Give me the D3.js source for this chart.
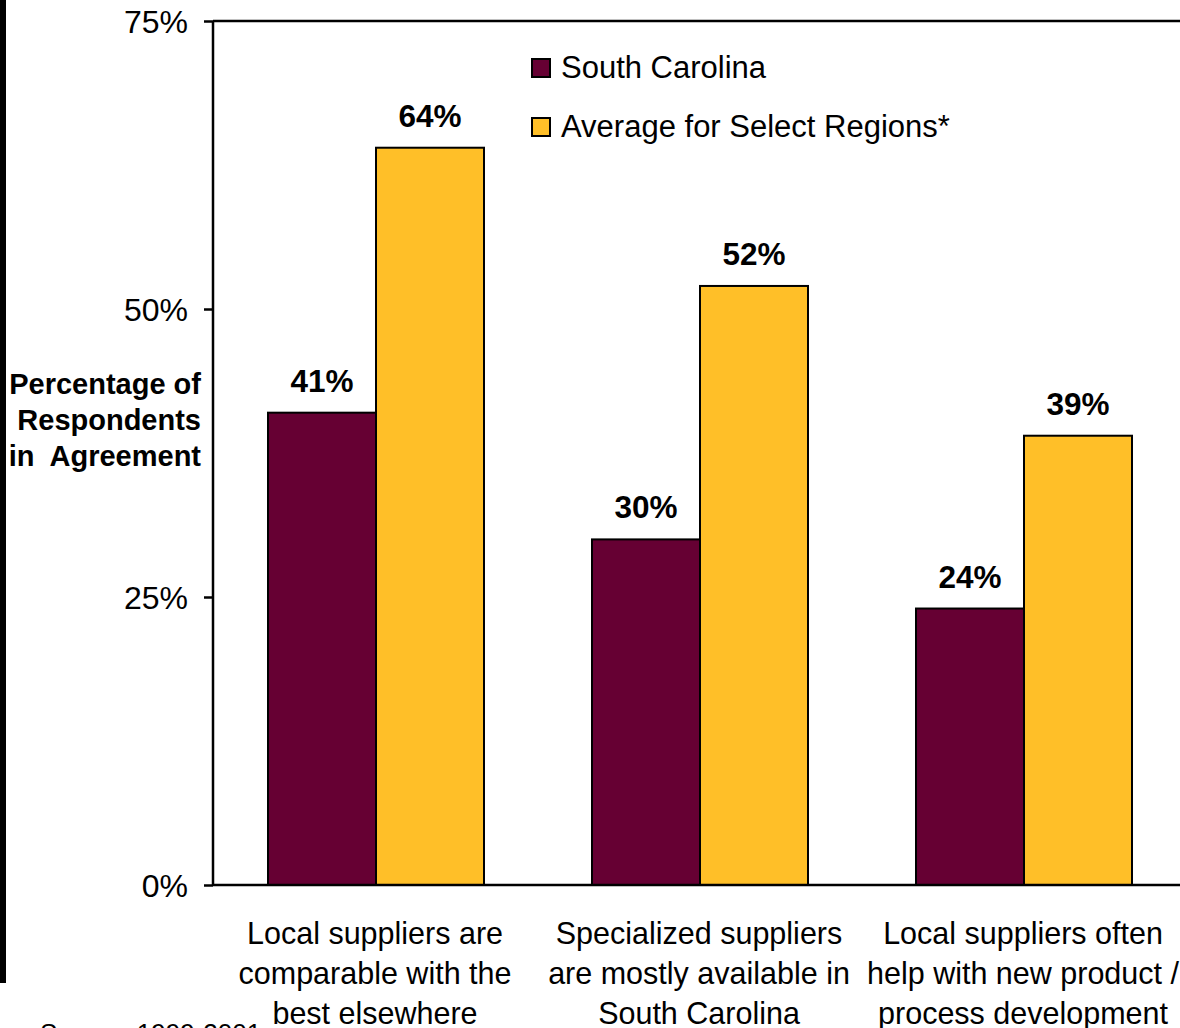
<!DOCTYPE html>
<html>
<head>
<meta charset="utf-8">
<script src="https://cdn.jsdelivr.net/npm/d3@7"></script>
<style>
  html, body { margin: 0; padding: 0; background: #fff; overflow: hidden; }
  svg { display: block; font-family: "Liberation Sans", Arial, sans-serif; }
</style>
</head>
<body>
<svg id="chart" width="1180" height="1028"></svg>
<script>
// Survey categories (multi-line labels)
const categories = [
  ["Local suppliers are", "comparable with the", "best elsewhere"],
  ["Specialized suppliers", "are mostly available in", "South Carolina"],
  ["Local suppliers often", "help with new product /", "process development"]
];
const seriesNames = ["South Carolina", "Average for Select Regions*"];
const southCarolina = [41, 30, 24];
const selectRegions = [64, 52, 39];
const yTicks = [0, 25, 50, 75];
const colors = ["#660033", "#FFBF28"];

const svg = d3.select("#chart");
const W = 1180, H = 1028;

const plot = { left: 213, top: 21, bottom: 885, right: 1186 };

const x0 = d3.scaleBand()
  .domain(d3.range(categories.length))
  .range([plot.left + 1, plot.right])
  .paddingInner(0).paddingOuter(0);
const x1 = d3.scaleBand()
  .domain(d3.range(seriesNames.length))
  .range([0, x0.bandwidth() * 2 / 3]);
const y = d3.scaleLinear().domain([0, 75]).range([plot.bottom, plot.top]);

const series = [southCarolina, selectRegions];

// Left border strip
svg.append("rect").attr("x", 0).attr("y", 0).attr("width", 6).attr("height", 983).attr("fill", "#000");

// Bars
const groups = svg.append("g").selectAll("g")
  .data(categories.map((c, i) => i))
  .join("g")
  .attr("transform", i => `translate(${x0(i) + x0.bandwidth() / 6},0)`);

groups.selectAll("rect")
  .data(i => series.map((s, k) => ({ k, v: s[i] })))
  .join("rect")
  .attr("x", d => x1(d.k))
  .attr("y", d => y(d.v))
  .attr("width", x1.bandwidth())
  .attr("height", d => y(0) - y(d.v))
  .attr("fill", d => colors[d.k])
  .attr("stroke", "#000")
  .attr("stroke-width", 2);

groups.selectAll("text.val")
  .data(i => series.map((s, k) => ({ k, v: s[i] })))
  .join("text")
  .attr("class", "val")
  .attr("x", d => x1(d.k) + x1.bandwidth() / 2)
  .attr("y", d => y(d.v) - 21)
  .attr("text-anchor", "middle")
  .attr("font-size", 31.5)
  .attr("font-weight", "bold")
  .attr("fill", "#000")
  .text(d => d.v + "%");

// Y axis
const yAxis = d3.axisLeft(y).tickValues(yTicks).tickFormat(d => d + "%").tickSize(9).tickPadding(16);
const yg = svg.append("g").attr("transform", `translate(${plot.left},0)`).call(yAxis);
yg.select(".domain").attr("stroke", "#000").attr("stroke-width", 2.5).attr("d", `M0,${plot.top}V${plot.bottom}`);
yg.selectAll(".tick line").attr("stroke", "#000").attr("stroke-width", 2.5);
yg.selectAll(".tick text").attr("font-size", 32).attr("fill", "#000")
  .attr("font-family", "'Liberation Sans', Arial, sans-serif").attr("dy", "0.36em");

// Top frame line and baseline
svg.append("line").attr("x1", plot.left).attr("x2", W).attr("y1", y(75)).attr("y2", y(75))
  .attr("stroke", "#000").attr("stroke-width", 2.5);
svg.append("line").attr("x1", plot.left).attr("x2", W).attr("y1", y(0)).attr("y2", y(0))
  .attr("stroke", "#000").attr("stroke-width", 2.5);

// Y axis title
const ytitle = ["Percentage of", "Respondents", "in  Agreement"];
svg.append("text")
  .attr("font-size", 29).attr("font-weight", "bold").attr("fill", "#000")
  .attr("text-anchor", "end").attr("xml:space", "preserve")
  .selectAll("tspan").data(ytitle).join("tspan")
  .attr("x", 201).attr("y", (d, i) => 394 + i * 36)
  .text(d => d);

// Source note (partially off the bottom edge)
svg.append("text").attr("x", 40).attr("y", 1042).attr("font-size", 26).attr("fill", "#000")
  .text("Source: 1999-2001");

// Category labels
svg.append("g").selectAll("text")
  .data(categories.map((c, i) => ({ c, i })))
  .join("text")
  .attr("text-anchor", "middle")
  .attr("font-size", 30.5).attr("fill", "#000")
  .attr("transform", d => `translate(${x0(d.i) + x0.bandwidth() / 2 - 1},0)`)
  .selectAll("tspan").data(d => d.c).join("tspan")
  .attr("x", 0).attr("y", (d, j) => 944 + j * 40)
  .text(d => d);

// Legend
const legend = svg.append("g").attr("transform", "translate(532,59)");
const li = legend.selectAll("g").data(seriesNames).join("g")
  .attr("transform", (d, i) => `translate(0,${i * 59})`);
li.append("rect").attr("width", 18).attr("height", 18)
  .attr("fill", (d, i) => colors[i]).attr("stroke", "#000").attr("stroke-width", 2);
li.append("text").attr("x", 29).attr("y", 19).attr("font-size", 31).attr("fill", "#000").text(d => d);
</script>
</body>
</html>
